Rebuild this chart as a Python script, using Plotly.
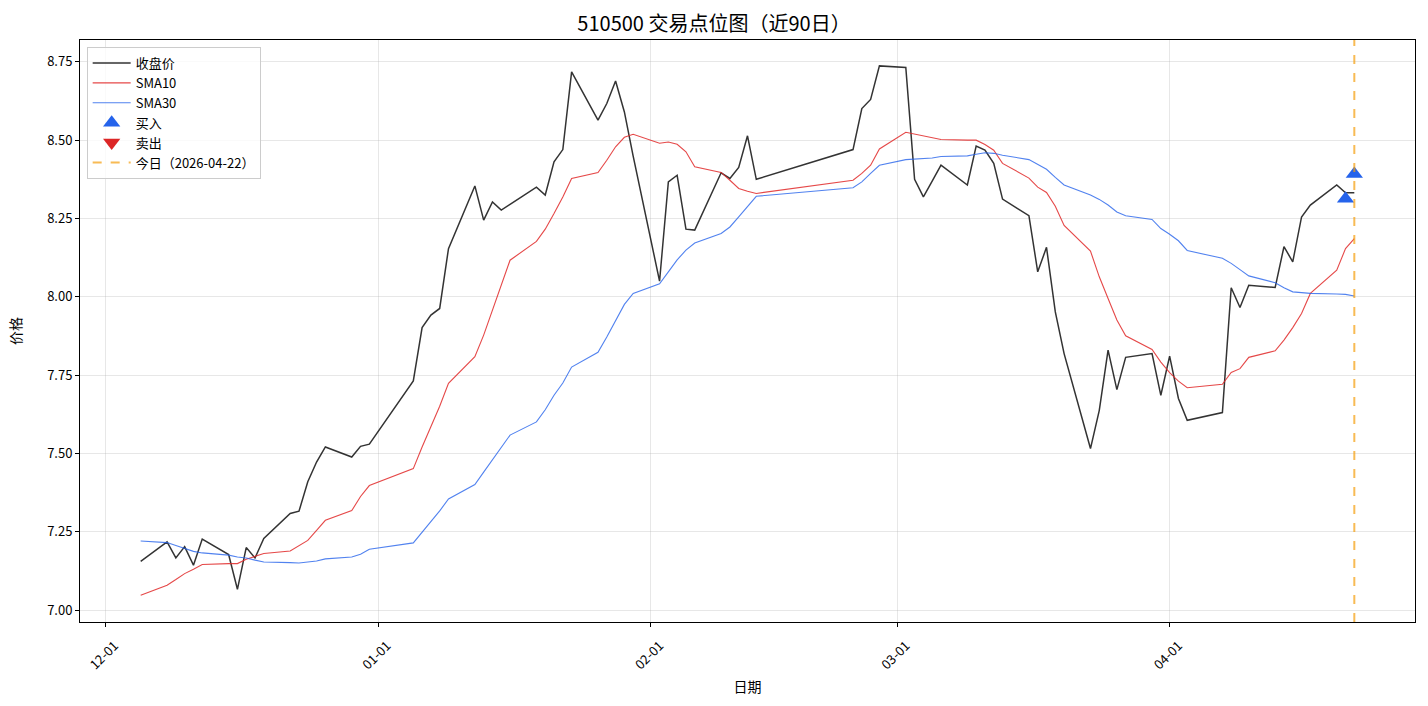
import plotly.graph_objects as go

dates = (
    ["2025-12-%02d" % d for d in [5, 8, 9, 10, 11, 12, 15, 16, 17, 18, 19, 22, 23, 24, 25, 26, 29, 30, 31]]
    + ["2026-01-%02d" % d for d in [5, 6, 7, 8, 9, 12, 13, 14, 15, 16, 19, 20, 21, 22, 23, 26, 27, 28, 29, 30]]
    + ["2026-02-%02d" % d for d in [2, 3, 4, 5, 6, 9, 10, 11, 12, 13, 24, 25, 26, 27]]
    + ["2026-03-%02d" % d for d in [2, 3, 4, 5, 6, 9, 10, 11, 12, 13, 16, 17, 18, 19, 20, 23, 24, 25, 26, 27, 30, 31]]
    + ["2026-04-%02d" % d for d in [1, 2, 3, 7, 8, 9, 10, 13, 14, 15, 16, 17, 20, 21, 22]]
)

close = [
    7.156, 7.218, 7.167, 7.203, 7.144, 7.227, 7.178, 7.067, 7.200, 7.167, 7.229, 7.309, 7.316, 7.410, 7.473, 7.521, 7.489, 7.523, 7.530,
    7.732, 7.902, 7.942, 7.963, 8.154, 8.354, 8.245, 8.303, 8.277, 8.295, 8.350, 8.325, 8.431, 8.470, 8.718, 8.564, 8.617, 8.689, 8.590, 8.449,
    8.050, 8.367, 8.388, 8.216, 8.213, 8.396, 8.378, 8.413, 8.514, 8.375, 8.470, 8.601, 8.630, 8.737,
    8.732, 8.375, 8.319, 8.369, 8.420, 8.357, 8.481, 8.468, 8.426, 8.312, 8.259, 8.080, 8.158, 7.952, 7.819, 7.516, 7.638, 7.830, 7.704, 7.807, 7.819, 7.686,
    7.811, 7.676, 7.606, 7.631, 8.029, 7.966, 8.037, 8.030, 8.160, 8.112, 8.255, 8.293, 8.357, 8.332, 8.332,
]

sma10 = [
    7.048, 7.080, 7.098, 7.117, 7.131, 7.146, 7.149, 7.149, 7.163, 7.172, 7.181, 7.189, 7.205, 7.223, 7.255, 7.287, 7.318, 7.363, 7.398,
    7.452, 7.521, 7.585, 7.651, 7.724, 7.809, 7.878, 7.958, 8.037, 8.117, 8.177, 8.216, 8.266, 8.319, 8.378, 8.397, 8.436, 8.479, 8.509, 8.519,
    8.490, 8.494, 8.487, 8.463, 8.415, 8.397, 8.372, 8.346, 8.337, 8.330, 8.372, 8.394, 8.420, 8.472,
    8.525, 8.519, 8.514, 8.509, 8.502, 8.500, 8.500, 8.486, 8.468, 8.426, 8.379, 8.350, 8.333, 8.289, 8.228, 8.146, 8.064, 7.995, 7.926, 7.876, 7.832, 7.792,
    7.758, 7.731, 7.710, 7.721, 7.759, 7.771, 7.807, 7.828, 7.862, 7.902, 7.947, 8.011, 8.085, 8.154, 8.186,
]

sma30 = [
    7.221, 7.216, 7.207, 7.197, 7.188, 7.183, 7.176, 7.170, 7.167, 7.160, 7.154, 7.152, 7.151, 7.154, 7.157, 7.164, 7.170, 7.179, 7.195,
    7.215, 7.248, 7.284, 7.317, 7.355, 7.401, 7.441, 7.481, 7.519, 7.559, 7.601, 7.640, 7.686, 7.725, 7.776, 7.823, 7.872, 7.926, 7.976, 8.011,
    8.042, 8.080, 8.118, 8.149, 8.172, 8.202, 8.223, 8.255, 8.287, 8.321, 8.348, 8.367, 8.394, 8.420,
    8.438, 8.439, 8.441, 8.443, 8.448, 8.450, 8.455, 8.460, 8.458, 8.452, 8.438, 8.423, 8.407, 8.381, 8.357, 8.325, 8.311, 8.293, 8.271, 8.259, 8.247, 8.218,
    8.200, 8.179, 8.148, 8.123, 8.107, 8.087, 8.067, 8.045, 8.029, 8.016, 8.013, 8.011, 8.009, 8.008, 8.003,
]

buy_dates = ["2026-04-21", "2026-04-22"]
buy_prices = [8.313, 8.392]
sell_dates = []
sell_prices = []
today = "2026-04-22"

tick_vals = ["2025-12-01", "2026-01-01", "2026-02-01", "2026-03-01", "2026-04-01"]
tick_text = ["12-01", "01-01", "02-01", "03-01", "04-01"]
y_ticks = [7.00, 7.25, 7.50, 7.75, 8.00, 8.25, 8.50, 8.75]

FONT = "Noto Sans CJK SC, DejaVu Sans, sans-serif"

fig = go.Figure()
fig.add_trace(go.Scatter(x=dates, y=close, mode="lines", name="收盘价",
                         line=dict(color="rgba(0,0,0,0.8)", width=1.5)))
fig.add_trace(go.Scatter(x=dates, y=sma10, mode="lines", name="SMA10",
                         line=dict(color="rgba(224,40,40,0.85)", width=1.1)))
fig.add_trace(go.Scatter(x=dates, y=sma30, mode="lines", name="SMA30",
                         line=dict(color="rgba(37,99,235,0.8)", width=1.1)))
fig.add_trace(go.Scatter(x=buy_dates, y=buy_prices, mode="markers", name="买入",
                         marker=dict(symbol="triangle-up", size=15, color="#2563eb")))
fig.add_trace(go.Scatter(x=sell_dates if sell_dates else [None],
                         y=sell_prices if sell_prices else [None],
                         mode="markers", name="卖出",
                         marker=dict(symbol="triangle-down", size=15, color="#dc2626")))
fig.add_trace(go.Scatter(x=[None], y=[None], mode="lines", name="今日（%s）" % today,
                         line=dict(color="rgba(245,158,11,0.7)", width=2, dash="dash")))
fig.add_shape(type="line", x0=today, x1=today, xref="x", y0=0, y1=1, yref="paper",
              line=dict(color="rgba(245,158,11,0.7)", width=2, dash="dash"))

fig.update_layout(
    width=1428, height=706,
    margin=dict(l=80, r=13, t=40, b=84),
    paper_bgcolor="white", plot_bgcolor="white",
    font=dict(family=FONT, size=13, color="black"),
    title=dict(text="510500 交易点位图（近90日）", x=0.5, xanchor="center",
               y=0.966, yanchor="middle", font=dict(size=20, family=FONT, color="black")),
    showlegend=True,
    legend=dict(x=0.005, y=0.988, xanchor="left", yanchor="top",
                bgcolor="rgba(255,255,255,0.8)", bordercolor="#cccccc", borderwidth=1,
                font=dict(size=13, family=FONT), tracegroupgap=0, itemwidth=38),
)
fig.update_xaxes(
    type="date", range=["2025-11-28 02:24", "2026-04-28 21:36"], automargin=False,
    tickmode="array", tickvals=tick_vals, ticktext=tick_text, tickangle=-45,
    ticklabelshift=9, ticklabelstandoff=6,
    showgrid=True, gridcolor="rgba(176,176,176,0.3)", gridwidth=1,
    showline=True, linecolor="black", linewidth=1, mirror=True,
    ticks="outside", ticklen=4, tickcolor="black",
    title=dict(text="日期", font=dict(size=14), standoff=10), zeroline=False,
)
fig.update_yaxes(
    range=[6.9626, 8.8196], tickmode="array", tickvals=y_ticks, automargin=False,
    ticktext=["%.2f" % v for v in y_ticks],
    showgrid=True, gridcolor="rgba(176,176,176,0.3)", gridwidth=1,
    showline=True, linecolor="black", linewidth=1, mirror=True,
    ticks="outside", ticklen=4, tickcolor="black",
    title=dict(text="价格", font=dict(size=14), standoff=22), zeroline=False,
)

fig.write_html("out.html")
